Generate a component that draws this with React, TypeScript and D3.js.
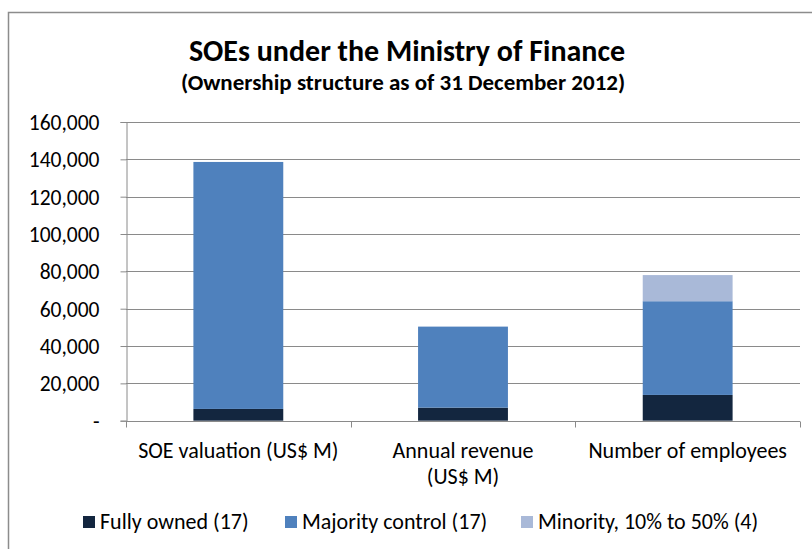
import React, { useRef, useEffect } from 'react';
import * as d3 from 'd3';

const categories = ['SOE valuation (US$ M)', 'Annual revenue\n(US$ M)', 'Number of employees'];
const fullyOwned = [6300, 7000, 13800];
const majorityControl = [132300, 43400, 50200];
const minority = [0, 0, 14000];
const seriesNames = ['Fully owned (17)', 'Majority control (17)', 'Minority, 10% to 50% (4)'];
const seriesColors = ['#13263f', '#4f81bd', '#a9b9d8'];
const yTicks = [0, 20000, 40000, 60000, 80000, 100000, 120000, 140000, 160000];

const FONT = "Carlito, Calibri, 'Open Sans', sans-serif";

const App = () => {
  const ref = useRef(null);

  useEffect(() => {
    const left = 126;
    const right = 800;
    const top = 122;
    const bottom = 420.7;

    const svg = d3.select(ref.current);
    svg.selectAll('*').remove();

    // chart frame
    svg.append('rect')
      .attr('x', 8.5).attr('y', 12.5)
      .attr('width', 830).attr('height', 560)
      .attr('fill', 'white').attr('stroke', '#8c8c8c').attr('stroke-width', 1.5);

    // titles
    svg.append('text')
      .attr('x', 407).attr('y', 61)
      .attr('text-anchor', 'middle')
      .style('font-family', FONT).style('font-weight', 'bold').style('font-size', '30px')
      .attr('fill', '#000')
      .text('SOEs under the Ministry of Finance');
    svg.append('text')
      .attr('x', 403).attr('y', 90)
      .attr('text-anchor', 'middle')
      .style('font-family', FONT).style('font-weight', 'bold').style('font-size', '23px')
      .attr('fill', '#000')
      .text('(Ownership structure as of 31 December 2012)');

    const x = d3.scaleBand()
      .domain(categories)
      .range([left, right])
      .paddingInner(0.6)
      .paddingOuter(0.3);

    const y = d3.scaleLinear()
      .domain([0, 160000])
      .range([bottom, top]);

    // gridlines
    svg.append('g')
      .selectAll('line')
      .data(yTicks.filter(d => d > 0))
      .enter()
      .append('line')
      .attr('x1', left).attr('x2', right)
      .attr('y1', d => Math.round(y(d)) + 0.5).attr('y2', d => Math.round(y(d)) + 0.5)
      .attr('stroke', '#8a8a8a').attr('stroke-width', 1);

    // stacked bars
    const rows = categories.map((c, i) => ({
      cat: c,
      s0: fullyOwned[i],
      s1: majorityControl[i],
      s2: minority[i],
    }));
    const stacked = d3.stack().keys(['s0', 's1', 's2'])(rows);

    svg.append('g')
      .selectAll('g')
      .data(stacked)
      .enter()
      .append('g')
      .attr('fill', (d, i) => seriesColors[i])
      .selectAll('rect')
      .data(d => d)
      .enter()
      .append('rect')
      .attr('x', d => x(d.data.cat))
      .attr('width', x.bandwidth())
      .attr('y', d => y(d[1]))
      .attr('height', d => y(d[0]) - y(d[1]));

    // y axis
    const yAxis = svg.append('g')
      .attr('transform', `translate(${left + 0.5},0)`)
      .call(d3.axisLeft(y).tickValues(yTicks).tickSize(6).tickPadding(21)
        .tickFormat(d => (d === 0 ? '-' : d3.format(',')(d))));
    yAxis.select('.domain').attr('stroke', '#8a8a8a');
    yAxis.selectAll('.tick line').attr('stroke', '#8a8a8a');
    yAxis.selectAll('text')
      .style('font-family', FONT).style('font-size', '21.5px').attr('fill', '#000')
      .attr('dy', '0.35em');

    // x axis
    const xAxisG = svg.append('g').attr('transform', `translate(0,${Math.round(bottom) + 0.5})`);
    xAxisG.append('line')
      .attr('x1', left).attr('x2', right)
      .attr('stroke', '#8a8a8a');
    const bounds = d3.range(categories.length + 1).map(i => left + i * (right - left) / categories.length);
    xAxisG.selectAll('.xtick')
      .data(bounds)
      .enter()
      .append('line')
      .attr('x1', d => Math.round(d) + 0.5).attr('x2', d => Math.round(d) + 0.5)
      .attr('y1', 0).attr('y2', 6)
      .attr('stroke', '#8a8a8a');
    xAxisG.selectAll('.xlabel')
      .data(categories)
      .enter()
      .append('text')
      .attr('text-anchor', 'middle')
      .attr('x', d => x(d) + x.bandwidth() / 2)
      .attr('y', 36)
      .style('font-family', FONT).style('font-size', '22px').attr('fill', '#000')
      .each(function (d) {
        const lines = d.split('\n');
        d3.select(this).selectAll('tspan')
          .data(lines)
          .enter()
          .append('tspan')
          .attr('x', x(d) + x.bandwidth() / 2)
          .attr('dy', (l, i) => (i === 0 ? 0 : 26))
          .text(l => l);
      });

    // legend
    const legendX = [83, 285, 521];
    const legend = svg.append('g');
    seriesNames.forEach((name, i) => {
      legend.append('rect')
        .attr('x', legendX[i]).attr('y', 516)
        .attr('width', 12).attr('height', 12)
        .attr('fill', seriesColors[i]);
      legend.append('text')
        .attr('x', legendX[i] + 17).attr('y', 529)
        .style('font-family', FONT).style('font-size', '22px').attr('fill', '#000')
        .text(name);
    });
  }, []);

  return (
    <svg
      ref={ref}
      width={812}
      height={549}
      style={{ position: 'absolute', left: 0, top: 0 }}
    />
  );
};

export default App;
